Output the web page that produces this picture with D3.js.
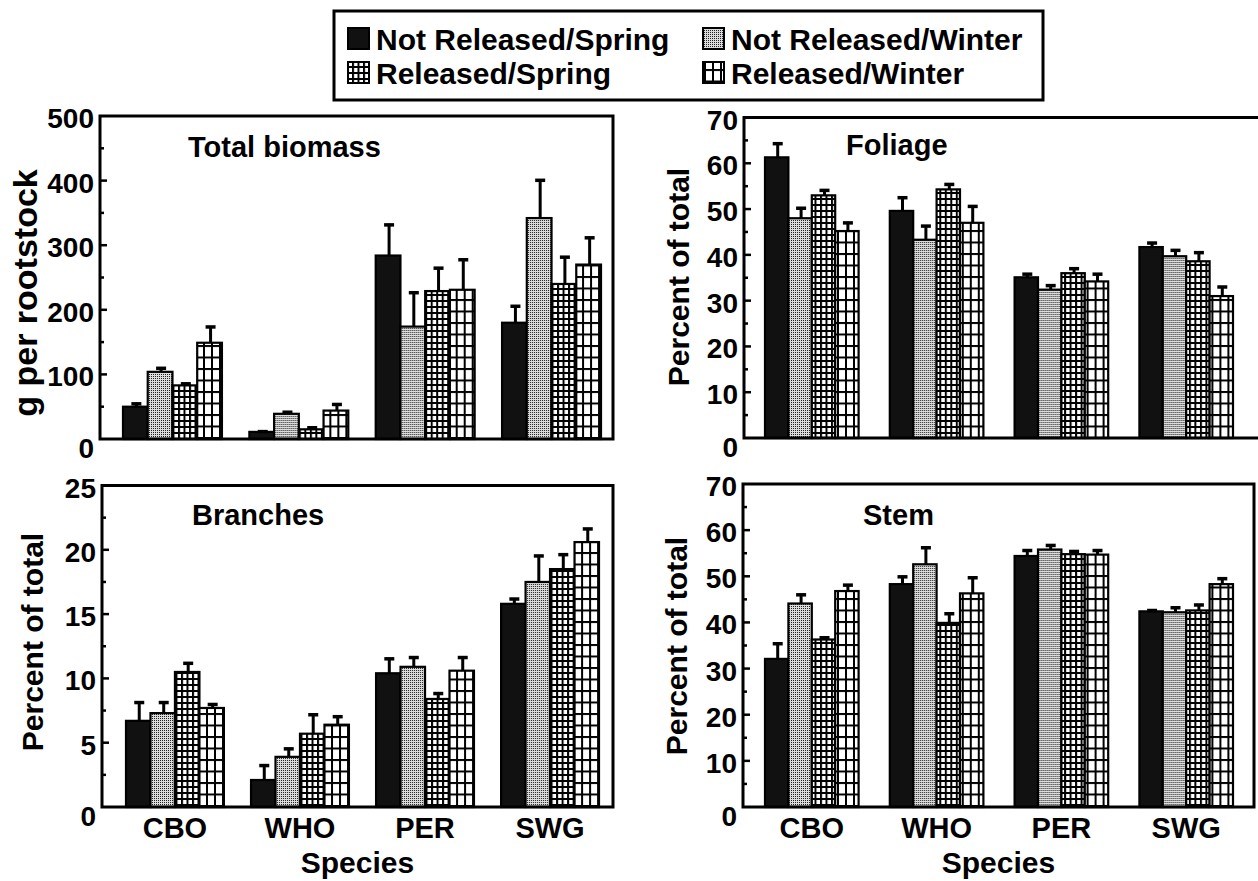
<!DOCTYPE html>
<html>
<head>
<meta charset="utf-8">
<script src="https://cdn.jsdelivr.net/npm/d3@7/dist/d3.min.js"></script>
<style>
  html, body { margin: 0; padding: 0; background: #fff; }
  svg { display: block; }
  text { font-family: "Liberation Sans", Arial, Helvetica, sans-serif; font-weight: bold; fill: #000; }
</style>
</head>
<body>
<div id="chart"></div>
<script>
const species = ['CBO', 'WHO', 'PER', 'SWG'];
const treatments = ['Not Released/Spring', 'Not Released/Winter', 'Released/Spring', 'Released/Winter'];

// values per species (rows) and treatment (columns)
const biomass    = [[50, 104, 83, 149], [11, 39, 15, 44], [284, 174, 229, 231], [180, 342, 240, 270]];
const biomassErr = [[6, 7, 4, 26], [2, 4, 4, 11], [49, 54, 37, 48], [27, 60, 43, 43]];

const foliage    = [[61.3, 48, 53, 45.2], [49.6, 43.3, 54.3, 47], [35.1, 32.4, 36, 34.2], [41.7, 39.7, 38.6, 31]];
const foliageErr = [[3.2, 2.4, 1.3, 2], [3.1, 3.2, 1.3, 3.8], [0.9, 1.1, 1.2, 1.8], [1.1, 1.5, 2.1, 2.2]];

const branches    = [[6.7, 7.3, 10.5, 7.7], [2.1, 3.9, 5.7, 6.4], [10.4, 10.9, 8.4, 10.6], [15.8, 17.5, 18.5, 20.6]];
const branchesErr = [[1.5, 0.9, 0.75, 0.35], [1.2, 0.7, 1.55, 0.7], [1.2, 0.8, 0.5, 1.1], [0.45, 2.1, 1.2, 1.1]];

const stem    = [[32.1, 44.1, 36.3, 46.8], [48.3, 52.6, 39.9, 46.3], [54.4, 55.8, 54.8, 54.7], [42.4, 42.2, 42.6, 48.3]];
const stemErr = [[3.5, 2.1, 0.6, 1.5], [1.8, 3.8, 2.2, 3.6], [1.4, 1.1, 0.8, 1.1], [0.4, 1.2, 1.4, 1.4]];

const ticksBiomass = [0, 100, 200, 300, 400, 500];
const ticksPercent = [0, 10, 20, 30, 40, 50, 60, 70];
const ticksBranches = [0, 5, 10, 15, 20, 25];

const width = 1258, height = 881;

const svg = d3.select('#chart').append('svg')
    .attr('width', width)
    .attr('height', height);

// fill patterns for the four treatments
const defs = svg.append('defs');

const stipple = defs.append('pattern')
    .attr('id', 'p1').attr('patternUnits', 'userSpaceOnUse')
    .attr('width', 2).attr('height', 2);
stipple.append('rect').attr('width', 2).attr('height', 2).attr('fill', '#dcdcdc');
stipple.append('rect').attr('width', 1).attr('height', 1).attr('fill', '#222');

function gridPattern(id, w, h, lw) {
    const p = defs.append('pattern')
        .attr('id', id).attr('patternUnits', 'userSpaceOnUse')
        .attr('width', w).attr('height', h);
    p.append('rect').attr('width', w).attr('height', h).attr('fill', '#fff');
    p.append('rect').attr('width', lw).attr('height', h).attr('fill', '#000');
    p.append('rect').attr('width', w).attr('height', lw).attr('fill', '#000');
}
gridPattern('p2', 5.5, 6, 2);
gridPattern('p3', 8, 11.5, 2);

const fills = ['#111', 'url(#p1)', 'url(#p2)', 'url(#p3)'];

// legend
const legend = svg.append('g').attr('class', 'legend');
legend.append('rect')
    .attr('x', 334).attr('y', 11)
    .attr('width', 709).attr('height', 89)
    .attr('fill', 'none').attr('stroke', '#000').attr('stroke-width', 3);

const legendCols = [348, 703];
const legendRows = [28, 62];
treatments.forEach((t, i) => {
    const cx = legendCols[i % 2], cy = legendRows[Math.floor(i / 2)];
    legend.append('rect')
        .attr('x', cx).attr('y', cy)
        .attr('width', 21).attr('height', 21)
        .attr('fill', fills[i]).attr('stroke', '#000').attr('stroke-width', 2);
    legend.append('text')
        .attr('x', cx + 28).attr('y', cy + 22)
        .attr('font-size', 30)
        .text(t);
});

function drawPanel(cfg) {
    const g = svg.append('g');

    const x = d3.scaleBand()
        .domain(species)
        .range(cfg.band)
        .paddingInner(cfg.pad)
        .paddingOuter(0);

    const xs = d3.scaleBand()
        .domain(d3.range(treatments.length))
        .range([0, x.bandwidth()]);

    const y = d3.scaleLinear()
        .domain([0, cfg.max])
        .range([cfg.y0, cfg.yTop]);

    const groups = g.selectAll('g.grp')
        .data(species)
        .enter().append('g')
        .attr('class', 'grp')
        .attr('transform', d => `translate(${x(d)},0)`);

    const cells = groups.selectAll('g.bar')
        .data((d, si) => cfg.values[si].map((v, ti) => ({ v: v, e: cfg.errors[si][ti], t: ti })))
        .enter().append('g')
        .attr('class', 'bar');

    cells.append('rect')
        .attr('x', d => xs(d.t))
        .attr('y', d => y(d.v))
        .attr('width', xs.bandwidth())
        .attr('height', d => cfg.y0 - y(d.v))
        .attr('fill', d => fills[d.t])
        .attr('stroke', '#000')
        .attr('stroke-width', 2.2);

    // upper error bars only
    cells.append('line')
        .attr('x1', d => xs(d.t) + xs.bandwidth() / 2 + 1)
        .attr('x2', d => xs(d.t) + xs.bandwidth() / 2 + 1)
        .attr('y1', d => y(d.v))
        .attr('y2', d => y(d.v + d.e))
        .attr('stroke', '#000')
        .attr('stroke-width', 3);

    cells.append('line')
        .attr('x1', d => xs(d.t) + xs.bandwidth() / 2 - 4)
        .attr('x2', d => xs(d.t) + xs.bandwidth() / 2 + 6)
        .attr('y1', d => y(d.v + d.e) + 1)
        .attr('y2', d => y(d.v + d.e) + 1)
        .attr('stroke', '#000')
        .attr('stroke-width', 3.5);

    // frame
    const frame = cfg.openRight
        ? `M${cfg.x1},${cfg.yTop}H${cfg.x0}V${cfg.y0}H${cfg.x1}`
        : `M${cfg.x0},${cfg.yTop}H${cfg.x1}V${cfg.y0}H${cfg.x0}Z`;
    g.append('path')
        .attr('d', frame)
        .attr('fill', 'none')
        .attr('stroke', '#000')
        .attr('stroke-width', 3);

    // inward ticks, with minor ticks halfway
    const step = cfg.ticks[1] - cfg.ticks[0];
    const minor = cfg.ticks.slice(0, -1).map(t => t + step / 2);

    g.selectAll('line.major')
        .data(cfg.ticks.slice(1, -1))
        .enter().append('line')
        .attr('x1', cfg.x0).attr('x2', cfg.x0 + 7)
        .attr('y1', d => y(d)).attr('y2', d => y(d))
        .attr('stroke', '#000').attr('stroke-width', 2.5);

    g.selectAll('line.minor')
        .data(minor)
        .enter().append('line')
        .attr('x1', cfg.x0).attr('x2', cfg.x0 + 4)
        .attr('y1', d => y(d)).attr('y2', d => y(d))
        .attr('stroke', '#000').attr('stroke-width', 2.5);

    g.selectAll('text.tick')
        .data(cfg.ticks)
        .enter().append('text')
        .attr('x', cfg.x0 - 6)
        .attr('y', d => y(d) + (d === 0 ? 19 : 12))
        .attr('text-anchor', 'end')
        .attr('font-size', 28)
        .text(d => d);

    g.append('text')
        .attr('x', cfg.title[0]).attr('y', cfg.title[1])
        .attr('font-size', 29)
        .text(cfg.name);

    g.append('text')
        .attr('transform', `translate(${cfg.yLabel[0]},${cfg.yLabel[1]}) rotate(-90)`)
        .attr('text-anchor', 'middle')
        .attr('font-size', cfg.yTitleSize)
        .text(cfg.yTitle);

    if (cfg.xAxis) {
        g.selectAll('text.cat')
            .data(species)
            .enter().append('text')
            .attr('x', d => x(d) + x.bandwidth() / 2)
            .attr('y', 838)
            .attr('text-anchor', 'middle')
            .attr('font-size', 29)
            .text(d => d);

        g.append('text')
            .attr('x', (cfg.x0 + cfg.x1) / 2)
            .attr('y', 873)
            .attr('text-anchor', 'middle')
            .attr('font-size', 30)
            .text('Species');
    }
}

drawPanel({
    name: 'Total biomass', yTitle: 'g per rootstock', yTitleSize: 34,
    values: biomass, errors: biomassErr, ticks: ticksBiomass, max: 500,
    x0: 100, x1: 613, y0: 439, yTop: 116,
    band: [123, 601], pad: 0.217,
    title: [188, 157], yLabel: [37, 293]
});

drawPanel({
    name: 'Foliage', yTitle: 'Percent of total', yTitleSize: 30,
    values: foliage, errors: foliageErr, ticks: ticksPercent, max: 70,
    x0: 744, x1: 1266, y0: 438, yTop: 117.5, openRight: true,
    band: [765, 1233], pad: 0.25,
    title: [846, 155], yLabel: [689, 277]
});

drawPanel({
    name: 'Branches', yTitle: 'Percent of total', yTitleSize: 30,
    values: branches, errors: branchesErr, ticks: ticksBranches, max: 25,
    x0: 102, x1: 613, y0: 807, yTop: 485.5,
    band: [126, 599], pad: 0.217,
    title: [192, 525], yLabel: [43, 642], xAxis: true
});

drawPanel({
    name: 'Stem', yTitle: 'Percent of total', yTitleSize: 30,
    values: stem, errors: stemErr, ticks: ticksPercent, max: 70,
    x0: 743, x1: 1254, y0: 807, yTop: 484,
    band: [765, 1233], pad: 0.25,
    title: [863, 525], yLabel: [687, 646], xAxis: true
});
</script>
</body>
</html>
